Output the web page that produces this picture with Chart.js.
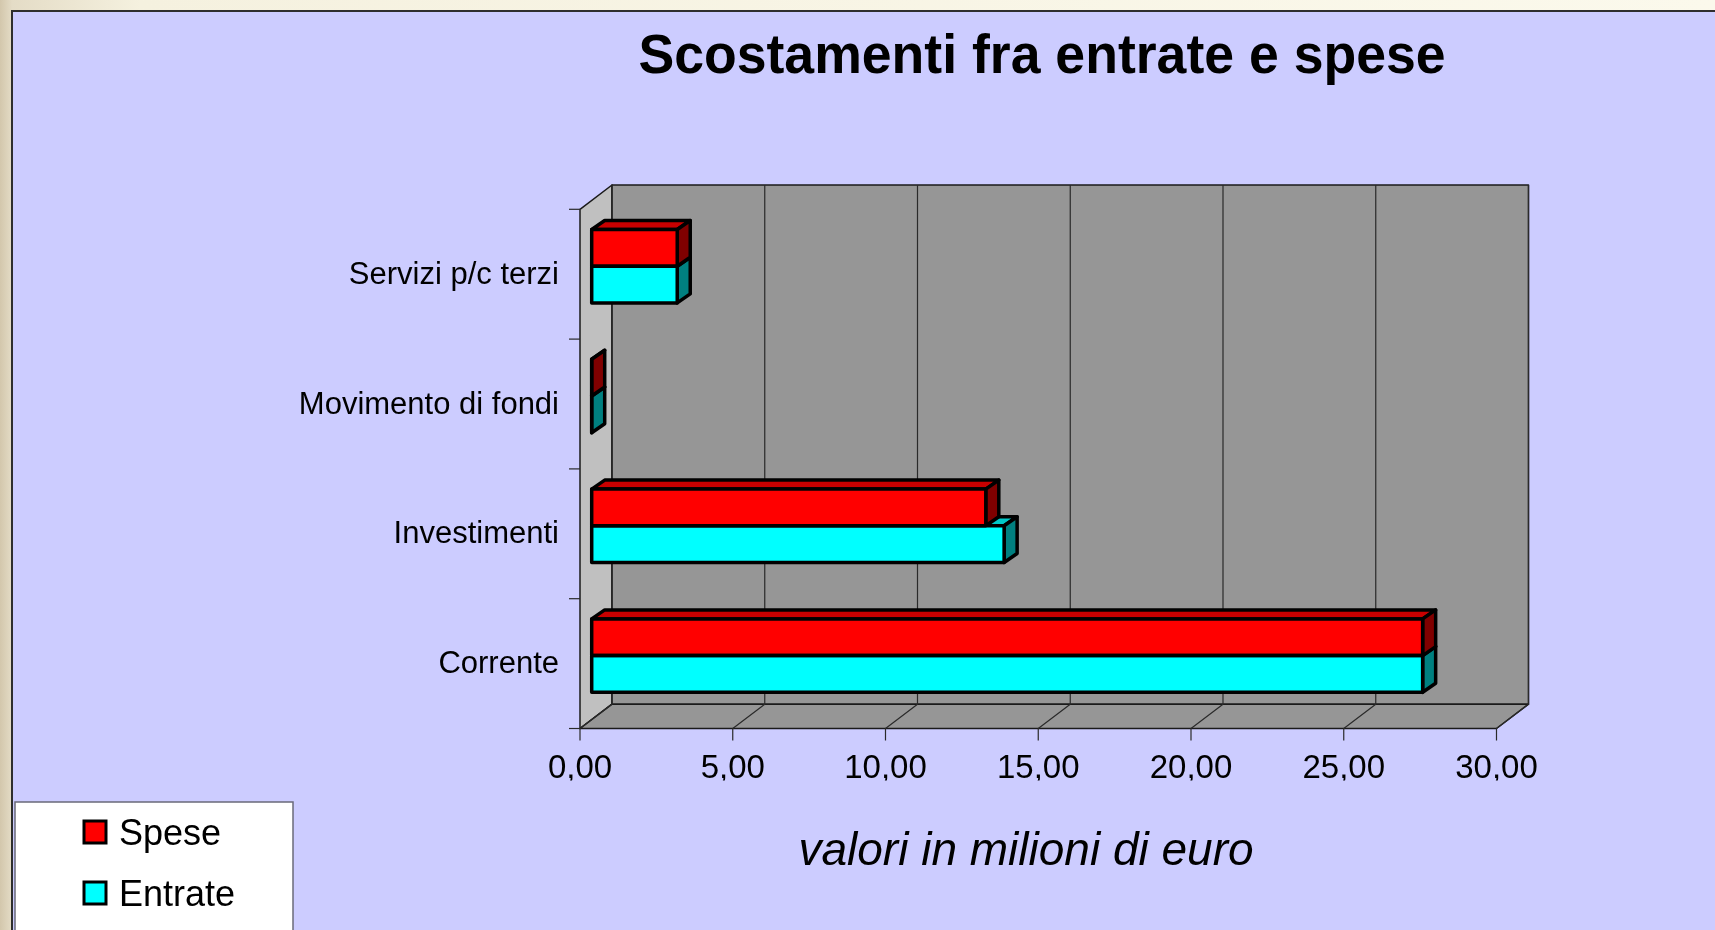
<!DOCTYPE html>
<html>
<head>
<meta charset="utf-8">
<title>Scostamenti fra entrate e spese</title>
<script src="https://cdn.jsdelivr.net/npm/chart.js@4.4.1/dist/chart.umd.min.js"></script>
<style>
  html, body { margin: 0; padding: 0; width: 1715px; height: 930px; overflow: hidden; }
  body { position: relative; background: linear-gradient(to right, #d3c7ac 0px, #e4dcc6 12px, #f5f1df 140px, #fbf9ec 100%); }
  #panel { position: absolute; left: 11px; top: 10px; right: 0; bottom: 0; background: #ccccff;
           border-left: 2px solid #2e2e2e; border-top: 2px solid #2e2e2e; }
  #chart { position: absolute; left: 0; top: 0; }
</style>
</head>
<body>
<div id="panel"></div>
<canvas id="chart" width="1715" height="930"></canvas>
<script>
// dati (milioni di euro), dall'alto in basso
const categories = ["Servizi p/c terzi", "Movimento di fondi", "Investimenti", "Corrente"];
const speseValues = [2.8, 0, 12.9, 27.2];
const entrateValues = [2.8, 0, 13.5, 27.2];
const xTickValues = [0, 5, 10, 15, 20, 25, 30];
const seriesNames = ["Spese", "Entrate"];
const chartTitle = "Scostamenti fra entrate e spese";
const axisTitle = "valori in milioni di euro";

const FONT = '"Liberation Sans", Arial, sans-serif';

// finto 3D: spostamenti rispetto al piano delle barre
const front = { dx: -11.7, dy: 8 };    // bordo anteriore del pavimento
const back = { dx: 20.3, dy: -16.3 };  // parete di fondo
const barDepth = { dx: 13, dy: -9 };   // profondita' delle barre

const colors = {
  face: ["#ff0000", "#00ffff"],
  top: ["#c80000", "#00c8c8"],
  side: ["#800000", "#008080"],
};

function poly(ctx, pts, fill) {
  ctx.beginPath();
  ctx.moveTo(pts[0][0], pts[0][1]);
  for (let k = 1; k < pts.length; k++) ctx.lineTo(pts[k][0], pts[k][1]);
  ctx.closePath();
  if (fill) {
    ctx.fillStyle = fill;
    ctx.fill();
  }
  ctx.stroke();
}

function barRect(el) {
  const p = el.getProps(["x", "y", "base", "height"], true);
  return {
    left: Math.min(p.x, p.base),
    right: Math.max(p.x, p.base),
    top: p.y - p.height / 2,
    bottom: p.y + p.height / 2,
  };
}

const box3d = {
  id: "box3d",
  beforeDatasetsDraw(chart) {
    const { ctx, chartArea: a, scales } = chart;
    const xs = scales.x;
    const x0 = xs.getPixelForValue(xTickValues[0]);
    const x1 = xs.getPixelForValue(xTickValues[xTickValues.length - 1]);
    ctx.save();
    ctx.lineJoin = "round";

    // parete laterale sinistra
    ctx.strokeStyle = "#1a1a1a";
    ctx.lineWidth = 1.5;
    poly(ctx, [
      [x0 + front.dx, a.top + front.dy],
      [x0 + back.dx, a.top + back.dy],
      [x0 + back.dx, a.bottom + back.dy],
      [x0 + front.dx, a.bottom + front.dy],
    ], "#c0c0c0");

    // parete di fondo
    poly(ctx, [
      [x0 + back.dx, a.top + back.dy],
      [x1 + back.dx, a.top + back.dy],
      [x1 + back.dx, a.bottom + back.dy],
      [x0 + back.dx, a.bottom + back.dy],
    ], "#969696");

    // pavimento
    poly(ctx, [
      [x0 + front.dx, a.bottom + front.dy],
      [x1 + front.dx, a.bottom + front.dy],
      [x1 + back.dx, a.bottom + back.dy],
      [x0 + back.dx, a.bottom + back.dy],
    ], "#969696");

    // griglia verticale + linee sul pavimento + tacche
    ctx.strokeStyle = "#2a2a2a";
    ctx.lineWidth = 1.2;
    xTickValues.forEach((v) => {
      const px = xs.getPixelForValue(v);
      ctx.beginPath();
      ctx.moveTo(px + back.dx, a.top + back.dy);
      ctx.lineTo(px + back.dx, a.bottom + back.dy);
      ctx.lineTo(px + front.dx, a.bottom + front.dy);
      ctx.lineTo(px + front.dx, a.bottom + front.dy + 12);
      ctx.stroke();
    });

    // tacche asse categorie
    const step = (a.bottom - a.top) / categories.length;
    for (let k = 0; k <= categories.length; k++) {
      const y = a.top + front.dy + k * step;
      ctx.beginPath();
      ctx.moveTo(x0 + front.dx - 11, y);
      ctx.lineTo(x0 + front.dx, y);
      ctx.stroke();
    }

    // facce superiori e laterali delle barre (prima Entrate, poi Spese)
    ctx.strokeStyle = "#000";
    ctx.lineWidth = 3.5;
    for (let d = chart.data.datasets.length - 1; d >= 0; d--) {
      chart.getDatasetMeta(d).data.forEach((el) => {
        const r = barRect(el);
        poly(ctx, [
          [r.left, r.top],
          [r.left + barDepth.dx, r.top + barDepth.dy],
          [r.right + barDepth.dx, r.top + barDepth.dy],
          [r.right, r.top],
        ], colors.top[d]);
        poly(ctx, [
          [r.right, r.top],
          [r.right + barDepth.dx, r.top + barDepth.dy],
          [r.right + barDepth.dx, r.bottom + barDepth.dy],
          [r.right, r.bottom],
        ], colors.side[d]);
      });
    }
    ctx.restore();
  },
  afterDatasetsDraw(chart) {
    const { ctx } = chart;
    ctx.save();
    ctx.strokeStyle = "#000";
    ctx.lineWidth = 3.5;
    ctx.lineJoin = "round";
    chart.data.datasets.forEach((ds, d) => {
      chart.getDatasetMeta(d).data.forEach((el) => {
        const r = barRect(el);
        ctx.strokeRect(r.left, r.top, r.right - r.left, r.bottom - r.top);
      });
    });
    ctx.restore();
  },
  afterDraw(chart) {
    const { ctx } = chart;
    ctx.save();
    ctx.fillStyle = "#000";

    // titolo
    ctx.font = "bold 56px " + FONT;
    ctx.textAlign = "center";
    ctx.textBaseline = "alphabetic";
    ctx.save();
    ctx.translate(1042, 73);
    ctx.scale(0.957, 1);
    ctx.fillText(chartTitle, 0, 0);
    ctx.restore();

    // titolo asse
    ctx.font = "italic 46px " + FONT;
    ctx.fillText(axisTitle, 1026, 865);

    // legenda
    ctx.fillStyle = "#fff";
    ctx.fillRect(15, 802, 278, 140);
    ctx.strokeStyle = "#6a6a7a";
    ctx.lineWidth = 1.5;
    ctx.strokeRect(15, 802, 278, 140);
    ctx.textAlign = "left";
    ctx.font = "36px " + FONT;
    chart.data.datasets.forEach((ds, d) => {
      const cy = 832 + d * 61;
      ctx.fillStyle = ds.backgroundColor;
      ctx.fillRect(84, cy - 11, 22, 22);
      ctx.strokeStyle = "#000";
      ctx.lineWidth = 3;
      ctx.strokeRect(84, cy - 11, 22, 22);
      ctx.fillStyle = "#000";
      ctx.fillText(ds.label, 119, cy + 13);
    });
    ctx.restore();
  },
};

const chart = new Chart(document.getElementById("chart"), {
  type: "bar",
  data: {
    labels: categories,
    datasets: [
      { label: seriesNames[0], data: speseValues, backgroundColor: colors.face[0] },
      { label: seriesNames[1], data: entrateValues, backgroundColor: colors.face[1] },
    ],
  },
  options: {
    indexAxis: "y",
    responsive: false,
    animation: false,
    events: [],
    layout: { padding: { left: 291.7, right: 206.8, top: 201.3, bottom: 149.5 } },
    datasets: {
      bar: { categoryPercentage: 0.5655, barPercentage: 1, borderWidth: 0 },
    },
    plugins: { legend: { display: false }, title: { display: false }, tooltip: { enabled: false } },
    scales: {
      x: {
        min: 0,
        max: 30,
        afterBuildTicks: (s) => { s.ticks = xTickValues.map((v) => ({ value: v })); },
        afterFit: (s) => { s.height = 60; },
        grid: { display: false },
        border: { display: false },
        ticks: {
          color: "#000",
          font: { family: FONT, size: 33 },
          padding: 21,
          labelOffset: front.dx,
          maxRotation: 0,
          callback: (v) => Number(v).toFixed(2).replace(".", ","),
        },
      },
      y: {
        afterFit: (s) => { s.width = 300; },
        grid: { display: false },
        border: { display: false },
        ticks: {
          color: "#000",
          font: { family: FONT, size: 31 },
          padding: 24.7,
          labelOffset: 9,
        },
      },
    },
  },
  plugins: [box3d],
});
</script>
</body>
</html>
